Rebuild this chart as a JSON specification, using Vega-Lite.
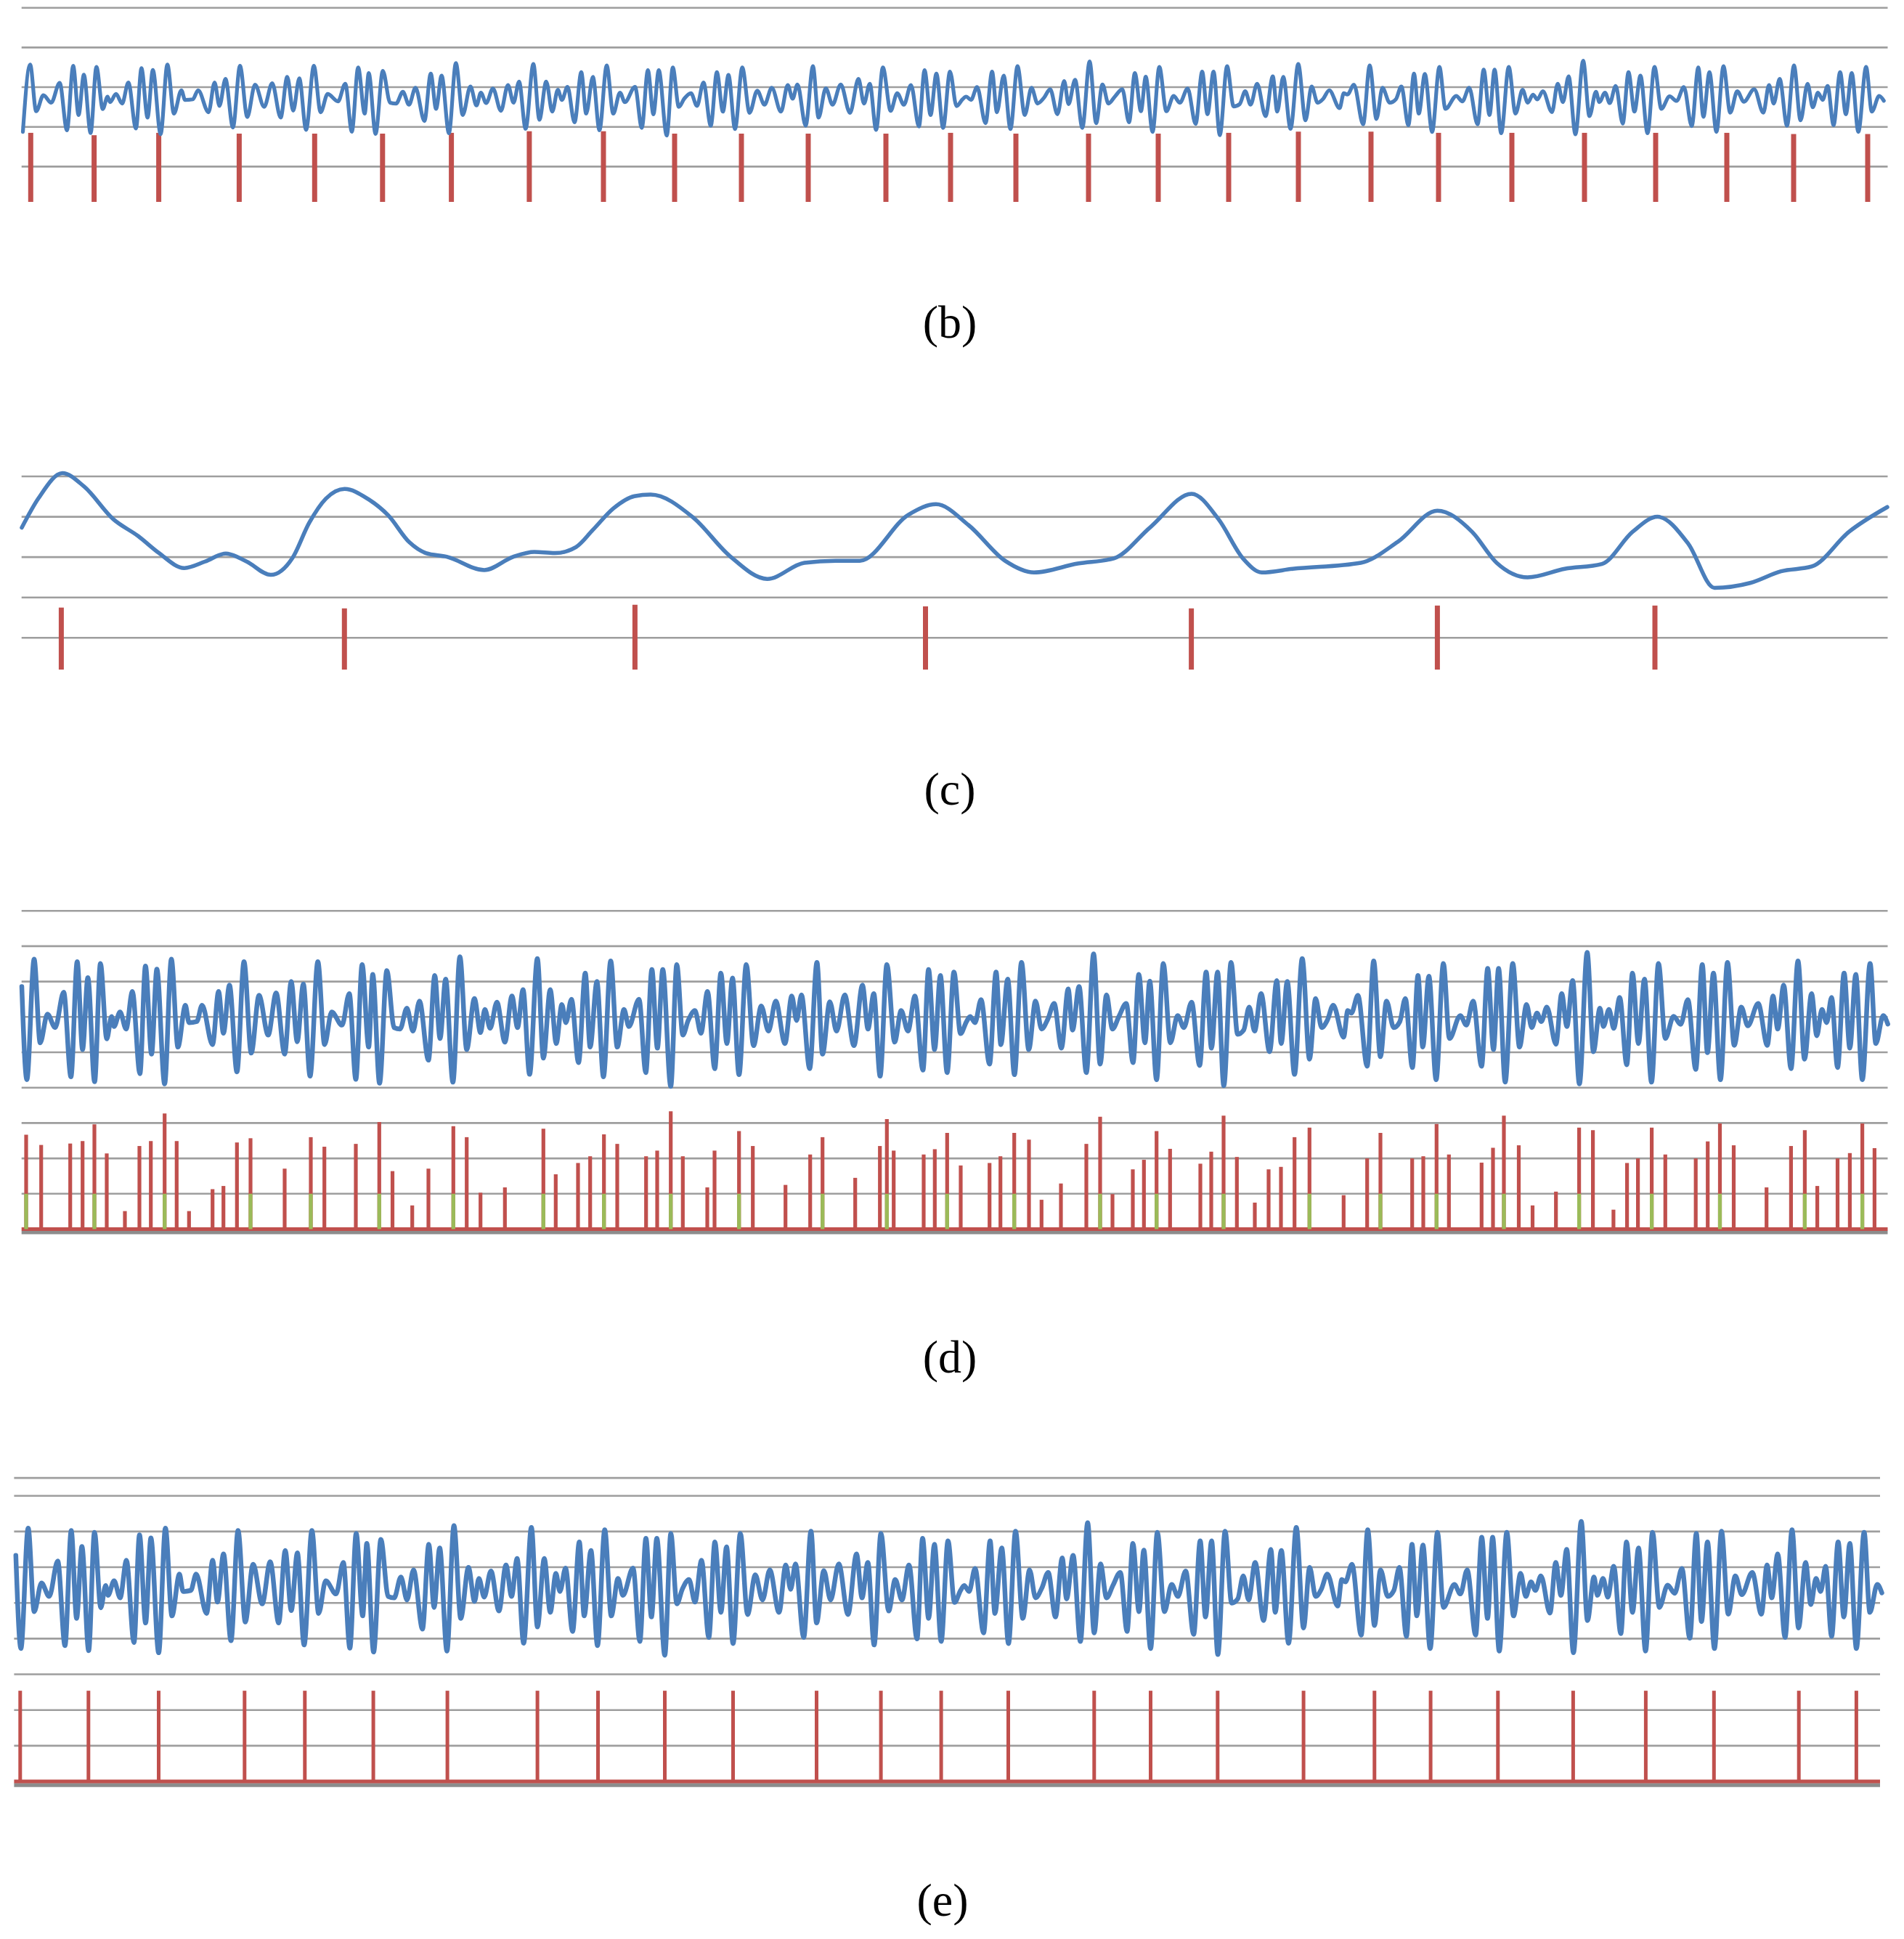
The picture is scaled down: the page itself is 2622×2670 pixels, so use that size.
{
"$schema":"https://vega.github.io/schema/vega-lite/v6.json",
"background":"white",
"padding":{"left":16,"top":0,"right":0,"bottom":0},
"spacing":0,
"config":{"view":{"stroke":null}},
"datasets":{
"sig":[{"t":0,"s":0.99},{"t":7,"s":-1.64},{"t":17,"s":1.76},{"t":25.3,"s":-0.6},{"t":35.3,"s":0.21},{"t":46,"s":-0.17},{"t":57.7,"s":0.83},{"t":67.7,"s":-1.56},{"t":76.3,"s":1.69},{"t":83.7,"s":-0.79},{"t":91,"s":1.24},{"t":100.3,"s":-1.7},{"t":108.3,"s":1.64},{"t":117,"s":-0.49},{"t":123.7,"s":0.14},{"t":127,"s":-0.14},{"t":135.3,"s":0.27},{"t":143.7,"s":-0.21},{"t":152.3,"s":0.85},{"t":162.7,"s":-1.47},{"t":170.3,"s":1.57},{"t":178.7,"s":-0.92},{"t":186,"s":1.48},{"t":196.7,"s":-1.76},{"t":206,"s":1.76},{"t":215,"s":-0.72},{"t":225.3,"s":0.46},{"t":230.3,"s":-0.03},{"t":241,"s":0},{"t":248.3,"s":0.46},{"t":262.7,"s":-0.65},{"t":271,"s":0.85},{"t":277.7,"s":-0.33},{"t":286,"s":1.03},{"t":296.3,"s":-1.42},{"t":306,"s":1.69},{"t":316,"s":-0.89},{"t":326.7,"s":0.74},{"t":339.3,"s":-0.38},{"t":350.3,"s":0.81},{"t":362,"s":-0.92},{"t":371,"s":1.13},{"t":379.3,"s":-0.57},{"t":387.7,"s":1.06},{"t":397,"s":-1.54},{"t":407.7,"s":1.69},{"t":417,"s":-0.65},{"t":426.7,"s":0.27},{"t":441,"s":-0.1},{"t":451,"s":0.79},{"t":460,"s":-1.63},{"t":468.7,"s":1.61},{"t":477.7,"s":-0.72},{"t":483.3,"s":1.33},{"t":492.7,"s":-1.74},{"t":502.7,"s":1.44},{"t":512.7,"s":-0.17},{"t":521,"s":-0.21},{"t":530.3,"s":0.38},{"t":538.7,"s":-0.27},{"t":547.7,"s":0.58},{"t":560,"s":-1.09},{"t":568.7,"s":1.3},{"t":576,"s":-0.48},{"t":583.7,"s":1.2},{"t":593.7,"s":-1.71},{"t":603.3,"s":1.83},{"t":612.7,"s":-0.79},{"t":623.3,"s":0.65},{"t":631.7,"s":-0.31},{"t":637.7,"s":0.34},{"t":645,"s":-0.19},{"t":654.3,"s":0.55},{"t":665.3,"s":-0.58},{"t":675,"s":0.72},{"t":682.7,"s":-0.17},{"t":690.3,"s":0.9},{"t":699.3,"s":-1.49},{"t":710,"s":1.78},{"t":718.3,"s":-1.03},{"t":727.7,"s":0.9},{"t":736,"s":-0.62},{"t":743.7,"s":0.48},{"t":749.3,"s":-0.03},{"t":757,"s":0.63},{"t":766.7,"s":-1.16},{"t":776,"s":1.37},{"t":782.7,"s":-0.72},{"t":792,"s":1.13},{"t":801,"s":-1.56},{"t":811,"s":1.71},{"t":820,"s":-0.72},{"t":829.3,"s":0.34},{"t":836,"s":-0.14},{"t":850,"s":0.63},{"t":859.3,"s":-1.44},{"t":867.7,"s":1.47},{"t":875.3,"s":-0.75},{"t":882.7,"s":1.47},{"t":893.7,"s":-1.83},{"t":902,"s":1.61},{"t":910.3,"s":-0.38},{"t":917.7,"s":0.03},{"t":927,"s":0.31},{"t":935.3,"s":-0.33},{"t":944.3,"s":0.85},{"t":954.3,"s":-1.33},{"t":962.7,"s":1.37},{"t":971,"s":-0.62},{"t":978.7,"s":1.23},{"t":987.7,"s":-1.5},{"t":997.7,"s":1.61},{"t":1007.7,"s":-0.68},{"t":1018.3,"s":0.44},{"t":1028.3,"s":-0.27},{"t":1038.3,"s":0.58},{"t":1051,"s":-0.62},{"t":1060.3,"s":0.72},{"t":1067,"s":0.03},{"t":1073.7,"s":0.75},{"t":1085,"s":-1.33},{"t":1095,"s":1.67},{"t":1102.7,"s":-0.92},{"t":1112.7,"s":0.56},{"t":1122,"s":-0.27},{"t":1133.3,"s":0.75},{"t":1146,"s":-0.68},{"t":1157.7,"s":1.03},{"t":1165.3,"s":-0.21},{"t":1173.3,"s":0.79},{"t":1182,"s":-1.54},{"t":1191.3,"s":1.61},{"t":1202,"s":-0.58},{"t":1211,"s":0.31},{"t":1220.3,"s":-0.27},{"t":1230,"s":0.72},{"t":1241,"s":-1.37},{"t":1248.7,"s":1.47},{"t":1257,"s":-0.79},{"t":1265,"s":1.3},{"t":1274.3,"s":-1.44},{"t":1283.7,"s":1.4},{"t":1292.7,"s":-0.34},{"t":1301,"s":0},{"t":1306,"s":0.14},{"t":1312.7,"s":-0.03},{"t":1321,"s":0.62},{"t":1332.7,"s":-1.2},{"t":1341.7,"s":1.4},{"t":1348.3,"s":-0.65},{"t":1357.7,"s":1.2},{"t":1367,"s":-1.5},{"t":1376.7,"s":1.67},{"t":1386.7,"s":-0.79},{"t":1396,"s":0.58},{"t":1404.3,"s":-0.21},{"t":1413,"s":0.07},{"t":1421.7,"s":0.51},{"t":1431.7,"s":-0.75},{"t":1441,"s":0.92},{"t":1447,"s":-0.24},{"t":1456,"s":0.99},{"t":1466,"s":-1.44},{"t":1476,"s":1.91},{"t":1485,"s":-1.2},{"t":1493.7,"s":0.75},{"t":1502,"s":-0.21},{"t":1511,"s":0.15},{"t":1521,"s":0.51},{"t":1530.3,"s":-1.16},{"t":1538.3,"s":1.33},{"t":1546.7,"s":-0.6},{"t":1553.3,"s":1.14},{"t":1562.7,"s":-1.64},{"t":1572,"s":1.64},{"t":1581.7,"s":-0.6},{"t":1591.7,"s":0.17},{"t":1600.3,"s":-0.17},{"t":1611,"s":0.55},{"t":1622,"s":-1.24},{"t":1631,"s":1.4},{"t":1638.3,"s":-0.75},{"t":1646.7,"s":1.4},{"t":1655.3,"s":-1.81},{"t":1665.3,"s":1.67},{"t":1674.3,"s":-0.36},{"t":1682.7,"s":-0.24},{"t":1690.3,"s":0.41},{"t":1697.7,"s":-0.27},{"t":1706.7,"s":0.79},{"t":1718.3,"s":-0.85},{"t":1728.3,"s":1.16},{"t":1734.3,"s":-0.62},{"t":1742.7,"s":1.13},{"t":1752.7,"s":-1.49},{"t":1763.3,"s":1.78},{"t":1773.3,"s":-1.06},{"t":1781.7,"s":0.65},{"t":1790,"s":-0.17},{"t":1797.7,"s":0.03},{"t":1806,"s":0.46},{"t":1820.3,"s":-0.44},{"t":1826,"s":0.31},{"t":1831,"s":0.24},{"t":1840,"s":0.74},{"t":1852.7,"s":-1.26},{"t":1861.7,"s":1.71},{"t":1871,"s":-0.99},{"t":1879.3,"s":0.58},{"t":1889.3,"s":-0.17},{"t":1897.7,"s":0},{"t":1905.3,"s":0.65},{"t":1915,"s":-1.3},{"t":1922.7,"s":1.3},{"t":1929.3,"s":-0.72},{"t":1937.7,"s":1.28},{"t":1947.7,"s":-1.64},{"t":1957.7,"s":1.64},{"t":1966,"s":-0.48},{"t":1981,"s":0.17},{"t":1989.3,"s":-0.1},{"t":1998.7,"s":0.58},{"t":2010.3,"s":-1.26},{"t":2018.7,"s":1.5},{"t":2026.7,"s":-0.79},{"t":2033.7,"s":1.5},{"t":2042.8,"s":-1.71},{"t":2053.2,"s":1.64},{"t":2062.5,"s":-0.72},{"t":2072.2,"s":0.48},{"t":2079.4,"s":-0.17},{"t":2086.6,"s":0.24},{"t":2092.6,"s":0},{"t":2100.2,"s":0.41},{"t":2112.7,"s":-0.64},{"t":2120.6,"s":0.79},{"t":2127.8,"s":-0.14},{"t":2135.7,"s":1.16},{"t":2145,"s":-1.76},{"t":2155.7,"s":1.95},{"t":2164.3,"s":-0.85},{"t":2173.3,"s":0.38},{"t":2178,"s":-0.14},{"t":2185.8,"s":0.34},{"t":2192.3,"s":-0.19},{"t":2200.5,"s":0.68},{"t":2210.2,"s":-1.22},{"t":2218.1,"s":1.37},{"t":2226.3,"s":-0.62},{"t":2234.6,"s":1.2},{"t":2244.3,"s":-1.71},{"t":2253.9,"s":1.64},{"t":2263.3,"s":-0.48},{"t":2274.7,"s":0.15},{"t":2284.4,"s":-0.08},{"t":2294.4,"s":0.62},{"t":2305.2,"s":-1.35},{"t":2314.2,"s":1.61},{"t":2321.3,"s":-0.88},{"t":2329.6,"s":1.37},{"t":2339.2,"s":-1.64},{"t":2348.9,"s":1.67},{"t":2358.2,"s":-0.67},{"t":2367.9,"s":0.41},{"t":2376.9,"s":-0.12},{"t":2391.2,"s":0.51},{"t":2403.8,"s":-0.67},{"t":2411.6,"s":0.72},{"t":2418.1,"s":-0.21},{"t":2426.3,"s":1.03},{"t":2436.4,"s":-1.33},{"t":2446,"s":1.71},{"t":2455,"s":-1.06},{"t":2464.7,"s":0.79},{"t":2471.9,"s":-0.4},{"t":2479,"s":0.34},{"t":2485.5,"s":-0.03},{"t":2492.3,"s":0.68},{"t":2500.5,"s":-1.3},{"t":2509.5,"s":1.37},{"t":2517.4,"s":-0.75},{"t":2525.6,"s":1.33},{"t":2534.6,"s":-1.64},{"t":2545.3,"s":1.64},{"t":2553.2,"s":-0.62},{"t":2563.3,"s":0.17},{"t":2569.7,"s":-0.07}],
"cSig":[{"t":0,"v":3.73},{"t":22.7,"v":4.45},{"t":56,"v":5.08},{"t":85.8,"v":4.75},{"t":126,"v":3.94},{"t":160.4,"v":3.52},{"t":189,"v":3.1},{"t":223.6,"v":2.73},{"t":252.3,"v":2.89},{"t":281,"v":3.09},{"t":309.7,"v":2.89},{"t":343,"v":2.56},{"t":372.8,"v":2.98},{"t":395.8,"v":3.85},{"t":418.8,"v":4.45},{"t":444.6,"v":4.69},{"t":476,"v":4.45},{"t":504.9,"v":4.03},{"t":533.6,"v":3.37},{"t":556.5,"v":3.1},{"t":585.2,"v":3.01},{"t":636.9,"v":2.68},{"t":677,"v":3.01},{"t":705.8,"v":3.13},{"t":734.5,"v":3.1},{"t":763.2,"v":3.25},{"t":786.2,"v":3.67},{"t":814.9,"v":4.21},{"t":843.6,"v":4.51},{"t":866,"v":4.55},{"t":924,"v":3.99},{"t":975.5,"v":3.02},{"t":1026.6,"v":2.46},{"t":1077.7,"v":2.86},{"t":1121,"v":2.91},{"t":1154,"v":2.91},{"t":1221,"v":4.05},{"t":1259,"v":4.31},{"t":1304,"v":3.79},{"t":1354,"v":2.91},{"t":1394,"v":2.62},{"t":1454,"v":2.84},{"t":1504,"v":2.97},{"t":1554,"v":3.74},{"t":1611,"v":4.57},{"t":1648,"v":3.94},{"t":1682,"v":2.96},{"t":1707.7,"v":2.62},{"t":1750.2,"v":2.71},{"t":1843.9,"v":2.86},{"t":1895,"v":3.38},{"t":1949.4,"v":4.15},{"t":1997,"v":3.63},{"t":2031,"v":2.86},{"t":2073.7,"v":2.5},{"t":2124.8,"v":2.71},{"t":2175.9,"v":2.83},{"t":2218.4,"v":3.63},{"t":2252.5,"v":4.0},{"t":2295,"v":3.33},{"t":2331,"v":2.24},{"t":2380,"v":2.36},{"t":2422.7,"v":2.65},{"t":2465.3,"v":2.77},{"t":2516.4,"v":3.63},{"t":2569,"v":4.24}],
"bBars":[{"t":12.3,"h":1.85},{"t":99.6,"h":1.79},{"t":188.6,"h":1.85},{"t":299.4,"h":1.83},{"t":403.3,"h":1.83},{"t":496.8,"h":1.83},{"t":591.6,"h":1.85},{"t":698.9,"h":1.89},{"t":801,"h":1.89},{"t":899,"h":1.83},{"t":991,"h":1.83},{"t":1083,"h":1.83},{"t":1190,"h":1.83},{"t":1279,"h":1.85},{"t":1369,"h":1.83},{"t":1469,"h":1.83},{"t":1565,"h":1.83},{"t":1662,"h":1.85},{"t":1758,"h":1.88},{"t":1858,"h":1.88},{"t":1951,"h":1.85},{"t":2052,"h":1.85},{"t":2152,"h":1.85},{"t":2250,"h":1.85},{"t":2348,"h":1.85},{"t":2440,"h":1.82},{"t":2542,"h":1.82}],
"cBars":[{"t":54.4,"h":1.75},{"t":444.3,"h":1.73},{"t":844.4,"h":1.82},{"t":1244.5,"h":1.78},{"t":1610.6,"h":1.73},{"t":1949.4,"h":1.8},{"t":2249,"h":1.8}],
"dSpikes":[{"t":6,"h":2.67,"p":1},{"t":26.7,"h":2.38},{"t":66.7,"h":2.42},{"t":83.7,"h":2.49},{"t":100,"h":2.96,"p":1},{"t":117,"h":2.14},{"t":142,"h":0.51},{"t":162,"h":2.35},{"t":177.7,"h":2.49},{"t":196.7,"h":3.27,"p":1},{"t":213.3,"h":2.49},{"t":230.3,"h":0.51},{"t":262.7,"h":1.13},{"t":277.7,"h":1.22},{"t":296.3,"h":2.45},{"t":315,"h":2.57,"p":1},{"t":362,"h":1.71},{"t":398,"h":2.6,"p":1},{"t":416.7,"h":2.33},{"t":460,"h":2.41},{"t":492.3,"h":3.03,"p":1},{"t":510.5,"h":1.64},{"t":537.7,"h":0.67},{"t":560,"h":1.71},{"t":594.3,"h":2.91,"p":1},{"t":612.7,"h":2.6},{"t":631.7,"h":1.03},{"t":665.3,"h":1.18},{"t":718.3,"h":2.84,"p":1},{"t":735.3,"h":1.55},{"t":766,"h":1.87},{"t":782.7,"h":2.06},{"t":801.7,"h":2.68,"p":1},{"t":820,"h":2.41},{"t":859.7,"h":2.06},{"t":875,"h":2.22},{"t":893.7,"h":3.33,"p":1},{"t":910.3,"h":2.06},{"t":944,"h":1.18},{"t":954,"h":2.22},{"t":987.7,"h":2.77,"p":1},{"t":1006.7,"h":2.35},{"t":1051.7,"h":1.25},{"t":1085.7,"h":2.11},{"t":1102.7,"h":2.6,"p":1},{"t":1147.7,"h":1.45},{"t":1181.7,"h":2.35},{"t":1191.3,"h":3.11,"p":1},{"t":1200.7,"h":2.22},{"t":1242,"h":2.11},{"t":1257.3,"h":2.26},{"t":1274.3,"h":2.72,"p":1},{"t":1293,"h":1.8},{"t":1332.7,"h":1.87},{"t":1347.7,"h":2.06},{"t":1366.7,"h":2.72,"p":1},{"t":1387,"h":2.53},{"t":1404.3,"h":0.83},{"t":1431,"h":1.29},{"t":1466,"h":2.41},{"t":1485,"h":3.18,"p":1},{"t":1502,"h":0.99},{"t":1530,"h":1.69},{"t":1545.3,"h":1.96},{"t":1562.7,"h":2.77,"p":1},{"t":1581.3,"h":2.27},{"t":1623,"h":1.85},{"t":1638,"h":2.19},{"t":1655,"h":3.21,"p":1},{"t":1673.3,"h":2.04},{"t":1698,"h":0.75},{"t":1717,"h":1.69},{"t":1734,"h":1.76},{"t":1752.7,"h":2.6},{"t":1773.3,"h":2.87,"p":1},{"t":1820.3,"h":0.96},{"t":1852.7,"h":2.0},{"t":1871,"h":2.72,"p":1},{"t":1914.7,"h":2.0},{"t":1930,"h":2.06},{"t":1948.3,"h":2.97,"p":1},{"t":1965.3,"h":2.11},{"t":2010.3,"h":1.88},{"t":2026,"h":2.3},{"t":2041,"h":3.21,"p":1},{"t":2061.5,"h":2.37},{"t":2080.5,"h":0.67},{"t":2112.7,"h":1.06},{"t":2144.6,"h":2.87,"p":1},{"t":2163.6,"h":2.8},{"t":2191.9,"h":0.55},{"t":2210.6,"h":1.87},{"t":2225.6,"h":2.0},{"t":2244.6,"h":2.87,"p":1},{"t":2263.3,"h":2.11},{"t":2305.2,"h":2.0},{"t":2321.7,"h":2.48},{"t":2338.5,"h":2.99,"p":1},{"t":2357.5,"h":2.37},{"t":2402.7,"h":1.18},{"t":2436.4,"h":2.35},{"t":2455.4,"h":2.8,"p":1},{"t":2472.6,"h":1.22},{"t":2500.5,"h":2.0},{"t":2517.4,"h":2.15},{"t":2534.6,"h":2.99,"p":1},{"t":2551.4,"h":2.29}],
"eSpikes":[{"t":6,"h":2.54},{"t":100,"h":2.54},{"t":196.7,"h":2.54},{"t":315,"h":2.54},{"t":398,"h":2.54},{"t":492.3,"h":2.54},{"t":594.3,"h":2.54},{"t":718.3,"h":2.54},{"t":801.7,"h":2.54},{"t":893.7,"h":2.54},{"t":987.7,"h":2.54},{"t":1102.7,"h":2.54},{"t":1191.3,"h":2.54},{"t":1274.3,"h":2.54},{"t":1366.7,"h":2.54},{"t":1485,"h":2.54},{"t":1562.7,"h":2.54},{"t":1655,"h":2.54},{"t":1773.3,"h":2.54},{"t":1871,"h":2.54},{"t":1948.3,"h":2.54},{"t":2041,"h":2.54},{"t":2144.6,"h":2.54},{"t":2244.6,"h":2.54},{"t":2338.5,"h":2.54},{"t":2455.4,"h":2.54},{"t":2534.6,"h":2.54}]
},
"vconcat":[
{
"width":2582,"height":278,
"title":{"text":"(b)","orient":"bottom","offset":132.5,"font":"Liberation Serif","fontSize":64,"fontWeight":"normal","color":"#000000","anchor":"middle","frame":"group","baseline":"top"},
"resolve":{"scale":{"x":"independent","y":"independent"}},
"layer":[
{"data":{"values":[{"g":1},{"g":2},{"g":3},{"g":4},{"g":5}]},
"mark":{"type":"rule","color":"#9E9E9E","strokeWidth":2.6,"strokeCap":"butt"},
"encoding":{"y":{"field":"g","type":"quantitative","scale":{"domain":[0.11,5.197],"nice":false,"zero":false},"axis":null},
"x":{"datum":-0.3,"type":"quantitative","scale":{"domain":[-13,2569],"nice":false,"zero":false},"axis":null},"x2":{"datum":2569.5}}},
{"data":{"name":"bBars"},
"mark":{"type":"rule","color":"#C0504D","strokeWidth":7,"strokeCap":"butt"},
"encoding":{"x":{"field":"t","type":"quantitative","scale":{"domain":[-13,2569],"nice":false,"zero":false},"axis":null},
"y":{"field":"h","type":"quantitative","scale":{"domain":[0.11,5.197],"nice":false,"zero":false},"axis":null},"y2":{"datum":0.11}}},
{"data":{"name":"sig"},"transform":[{"filter":"datum.t >= 5"}],
"mark":{"type":"line","color":"#4A7EBB","strokeWidth":5.2,"interpolate":"monotone","strokeJoin":"round","strokeCap":"round"},
"encoding":{"x":{"field":"t","type":"quantitative","scale":{"domain":[-7.5,2574.5],"nice":false,"zero":false},"axis":null},
"y":{"field":"s","type":"quantitative","scale":{"domain":[-5.172,5.011],"nice":false,"zero":false},"axis":null}}}
]},
{
"width":2582,"height":444,
"title":{"text":"(c)","orient":"bottom","offset":131.5,"font":"Liberation Serif","fontSize":64,"fontWeight":"normal","color":"#000000","anchor":"middle","frame":"group","baseline":"top"},
"resolve":{"scale":{"x":"independent","y":"independent"}},
"layer":[
{"data":{"values":[{"g":1},{"g":2},{"g":3},{"g":4},{"g":5}]},
"mark":{"type":"rule","color":"#9E9E9E","strokeWidth":2.6,"strokeCap":"butt"},
"encoding":{"y":{"field":"g","type":"quantitative","scale":{"domain":[0.214,8.203],"nice":false,"zero":false},"axis":null},
"x":{"datum":-0.3,"type":"quantitative","scale":{"domain":[-13,2569],"nice":false,"zero":false},"axis":null},"x2":{"datum":2569.5}}},
{"data":{"name":"cBars"},
"mark":{"type":"rule","color":"#C0504D","strokeWidth":7,"strokeCap":"butt"},
"encoding":{"x":{"field":"t","type":"quantitative","scale":{"domain":[-13,2569],"nice":false,"zero":false},"axis":null},
"y":{"field":"h","type":"quantitative","scale":{"domain":[0.214,8.203],"nice":false,"zero":false},"axis":null},"y2":{"datum":0.214}}},
{"data":{"name":"cSig"},
"mark":{"type":"line","color":"#4A7EBB","strokeWidth":5.5,"interpolate":"monotone","strokeJoin":"round","strokeCap":"round"},
"encoding":{"x":{"field":"t","type":"quantitative","scale":{"domain":[-13,2569],"nice":false,"zero":false},"axis":null},
"y":{"field":"v","type":"quantitative","scale":{"domain":[0.214,8.203],"nice":false,"zero":false},"axis":null}}}
]},
{
"width":2582,"height":571.5,
"title":{"text":"(d)","orient":"bottom","offset":139.6,"font":"Liberation Serif","fontSize":64,"fontWeight":"normal","color":"#000000","anchor":"middle","frame":"group","baseline":"top"},
"resolve":{"scale":{"x":"independent","y":"independent"}},
"layer":[
{"data":{"values":[{"g":1},{"g":2},{"g":3},{"g":4},{"g":5},{"g":6},{"g":7},{"g":8},{"g":9}]},
"mark":{"type":"rule","color":"#9E9E9E","strokeWidth":2.6,"strokeCap":"butt"},
"encoding":{"y":{"field":"g","type":"quantitative","scale":{"domain":[0,11.735],"nice":false,"zero":false},"axis":null},
"x":{"datum":-0.3,"type":"quantitative","scale":{"domain":[-13,2569],"nice":false,"zero":false},"axis":null},"x2":{"datum":2569.5}}},
{"data":{"values":[{"g":0}]},
"mark":{"type":"rule","color":"#8C8C8C","strokeWidth":4.6,"strokeCap":"butt","yOffset":4.6},
"encoding":{"y":{"field":"g","type":"quantitative","scale":{"domain":[0,11.735],"nice":false,"zero":false},"axis":null},
"x":{"datum":-0.3,"type":"quantitative","scale":{"domain":[-13,2569],"nice":false,"zero":false},"axis":null},"x2":{"datum":2569.5}}},
{"data":{"values":[{"g":0}]},
"mark":{"type":"rule","color":"#C0504D","strokeWidth":4.8,"strokeCap":"butt"},
"encoding":{"y":{"field":"g","type":"quantitative","scale":{"domain":[0,11.735],"nice":false,"zero":false},"axis":null},
"x":{"datum":-0.3,"type":"quantitative","scale":{"domain":[-13,2569],"nice":false,"zero":false},"axis":null},"x2":{"datum":2569.5}}},
{"data":{"name":"dSpikes"},
"mark":{"type":"rule","color":"#C0504D","strokeWidth":5.2,"strokeCap":"butt"},
"encoding":{"x":{"field":"t","type":"quantitative","scale":{"domain":[-13,2569],"nice":false,"zero":false},"axis":null},
"y":{"field":"h","type":"quantitative","scale":{"domain":[0,11.735],"nice":false,"zero":false},"axis":null},"y2":{"datum":0}}},
{"data":{"name":"dSpikes"},"transform":[{"filter":"datum.p === 1"}],
"mark":{"type":"rule","color":"#9BBB59","strokeWidth":5.2,"strokeCap":"butt"},
"encoding":{"x":{"field":"t","type":"quantitative","scale":{"domain":[-13,2569],"nice":false,"zero":false},"axis":null},
"y":{"datum":1,"type":"quantitative","scale":{"domain":[0,11.735],"nice":false,"zero":false},"axis":null},"y2":{"datum":0}}},
{"data":{"name":"sig"},
"mark":{"type":"line","color":"#4A7EBB","strokeWidth":6.5,"interpolate":"monotone","strokeJoin":"round","strokeCap":"round"},
"encoding":{"x":{"field":"t","type":"quantitative","scale":{"domain":[-13,2569],"nice":false,"zero":false},"axis":null},
"y":{"field":"s","type":"quantitative","scale":{"domain":[-5.86,5.858],"nice":false,"zero":false},"axis":null}}}
]},
{
"width":2582,"height":550,
"title":{"text":"(e)","orient":"bottom","offset":126.25,"dx":-10,"font":"Liberation Serif","fontSize":64,"fontWeight":"normal","color":"#000000","anchor":"middle","frame":"group","baseline":"top"},
"resolve":{"scale":{"x":"independent","y":"independent"}},
"layer":[
{"data":{"values":[{"g":1},{"g":2},{"g":3},{"g":4},{"g":5},{"g":6},{"g":7},{"g":8},{"g":8.5}]},
"mark":{"type":"rule","color":"#9E9E9E","strokeWidth":2.6,"strokeCap":"butt"},
"encoding":{"y":{"field":"g","type":"quantitative","scale":{"domain":[0,11.188],"nice":false,"zero":false},"axis":null},
"x":{"datum":-2.4,"type":"quantitative","scale":{"domain":[-4.8,2577.2],"nice":false,"zero":false},"axis":null},"x2":{"datum":2567.2}}},
{"data":{"values":[{"g":0}]},
"mark":{"type":"rule","color":"#8C8C8C","strokeWidth":5.5,"strokeCap":"butt","yOffset":5},
"encoding":{"y":{"field":"g","type":"quantitative","scale":{"domain":[0,11.188],"nice":false,"zero":false},"axis":null},
"x":{"datum":-2.4,"type":"quantitative","scale":{"domain":[-4.8,2577.2],"nice":false,"zero":false},"axis":null},"x2":{"datum":2567.2}}},
{"data":{"values":[{"g":0}]},
"mark":{"type":"rule","color":"#C0504D","strokeWidth":4.8,"strokeCap":"butt"},
"encoding":{"y":{"field":"g","type":"quantitative","scale":{"domain":[0,11.188],"nice":false,"zero":false},"axis":null},
"x":{"datum":-2.4,"type":"quantitative","scale":{"domain":[-4.8,2577.2],"nice":false,"zero":false},"axis":null},"x2":{"datum":2567.2}}},
{"data":{"name":"eSpikes"},
"mark":{"type":"rule","color":"#C0504D","strokeWidth":5,"strokeCap":"butt"},
"encoding":{"x":{"field":"t","type":"quantitative","scale":{"domain":[-4.8,2577.2],"nice":false,"zero":false},"axis":null},
"y":{"field":"h","type":"quantitative","scale":{"domain":[0,11.188],"nice":false,"zero":false},"axis":null},"y2":{"datum":0}}},
{"data":{"name":"sig"},
"mark":{"type":"line","color":"#4A7EBB","strokeWidth":6.5,"interpolate":"monotone","strokeJoin":"round","strokeCap":"round"},
"encoding":{"x":{"field":"t","type":"quantitative","scale":{"domain":[-4.8,2577.2],"nice":false,"zero":false},"axis":null},
"y":{"field":"s","type":"quantitative","scale":{"domain":[-5.393,5.885],"nice":false,"zero":false},"axis":null}}}
]}
]
}
